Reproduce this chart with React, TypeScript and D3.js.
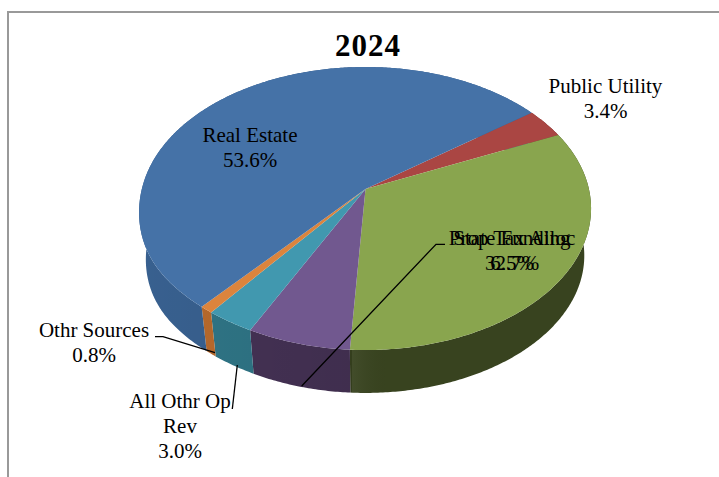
import React from "react";
import * as d3 from "d3";

const categories = ["Public Utility", "State Funding", "Prop Tax Alloc", "All Othr Op Rev", "Othr Sources", "Real Estate"];
const values = [3.4, 32.7, 6.5, 3.0, 0.8, 53.6];
const topColors = ["#aa4643", "#89a54e", "#71588f", "#4198af", "#db843d", "#4572a7"];
const sideColors = ["#6e2d2b", "#38431f", "#453255", "#2f7586", "#b86a2c", "#38608f"];
const firstSliceStart = 53.5;

// Perspective projection of the pie disc: the hub sits above the middle of the ellipse.
const cx = 365.5;
const hubY = 189;
const halfWidth = 223.4;
const yGain = 112.8;
const tilt = -0.1378;
// Vertical edges of the rim converge toward this point far below the chart.
const nadirY = 1780;
const rimScale = 0.97;
// The lower-left of the disc swells slightly outward.
const bulge = 3.5;
const bulgeAt = (238 * Math.PI) / 180;
const bulgeSpread = (20 * Math.PI) / 180;

const serif = "'Liberation Serif', serif";

const project = (a: number): [number, number] => {
  const u = Math.sin(a);
  const v = -Math.cos(a);
  const w = 1 + tilt * v;
  const t = ((a % (2 * Math.PI)) - bulgeAt) / bulgeSpread;
  return [cx + (halfWidth * u) / w - bulge * Math.exp(-t * t), (yGain * v + hubY) / w];
};
const projectRim = (a: number): [number, number] => {
  const [x, y] = project(a);
  return [cx + rimScale * (x - cx), nadirY - rimScale * (nadirY - y)];
};
const sample = (a0: number, a1: number) => {
  const n = Math.max(2, Math.ceil((a1 - a0) / 0.01));
  return d3.range(n + 1).map((k) => a0 + ((a1 - a0) * k) / n);
};
const line = d3.line<[number, number]>();

export default function App() {
  const start = (firstSliceStart * Math.PI) / 180;
  const slices = d3.pie<number>().sort(null).startAngle(start).endAngle(start + 2 * Math.PI)(values);
  const topPath = (a0: number, a1: number) =>
    (line([[cx, hubY], ...sample(a0, a1).map(project)]) as string) + "Z";
  const sidePath = (a0: number, a1: number) => {
    const t = sample(a0, a1);
    return (line([...t.map(project), ...t.slice().reverse().map(projectRim)]) as string) + "Z";
  };
  return (
    <svg width={719} height={477} style={{ position: "absolute", left: 0, top: 0 }}>
      <defs>
        <linearGradient id="rimShade" gradientUnits="userSpaceOnUse" x1={140} x2={590} y1={0} y2={0}>
          <stop offset="0" stopColor="#000" stopOpacity={0} />
          <stop offset="0.47" stopColor="#000" stopOpacity={0.08} />
          <stop offset="0.472" stopColor="#fff" stopOpacity={0.05} />
          <stop offset="0.56" stopColor="#000" stopOpacity={0} />
          <stop offset="1" stopColor="#000" stopOpacity={0} />
        </linearGradient>
      </defs>
      <rect width={719} height={477} fill="#fff" />
      <path d="M8,477 V12 H719" fill="none" stroke="#999" strokeWidth={2} />
      {slices.map((d, i) => (
        <g key={`rim-${categories[i]}`}>
          <path d={sidePath(d.startAngle, d.endAngle)} fill={sideColors[i]} />
          <path d={sidePath(d.startAngle, d.endAngle)} fill="url(#rimShade)" />
        </g>
      ))}
      {slices.map((d, i) => (
        <path key={categories[i]} d={topPath(d.startAngle, d.endAngle)} fill={topColors[i]} />
      ))}
      <g fill="none" stroke="#000" strokeWidth={1.3}>
        <polyline points="301.7,386 436,244.3 445,244.3" />
        <polyline points="155,336.7 163,336.7 215,352.7" />
        <polyline points="237.3,365 232.3,409" />
      </g>
      <g fontFamily={serif} fill="#000" fontSize={21} textAnchor="middle">
        <text x={368} y={56} fontSize={31} fontWeight="bold" letterSpacing={1}>2024</text>
        <text x={605.5} y={93}>Public Utility</text>
        <text x={605.5} y={118}>3.4%</text>
        <text x={250} y={142}>Real Estate</text>
        <text x={250} y={167}>53.6%</text>
        <text x={512} y={245}>State Funding</text>
        <text x={512} y={270}>32.7%</text>
        <text x={512} y={245}>Prop Tax Alloc</text>
        <text x={512} y={270}>6.5%</text>
        <text x={94} y={337}>Othr Sources</text>
        <text x={94} y={362}>0.8%</text>
        <text x={180} y={408}>All Othr Op</text>
        <text x={180} y={433}>Rev</text>
        <text x={180} y={458}>3.0%</text>
      </g>
    </svg>
  );
}
